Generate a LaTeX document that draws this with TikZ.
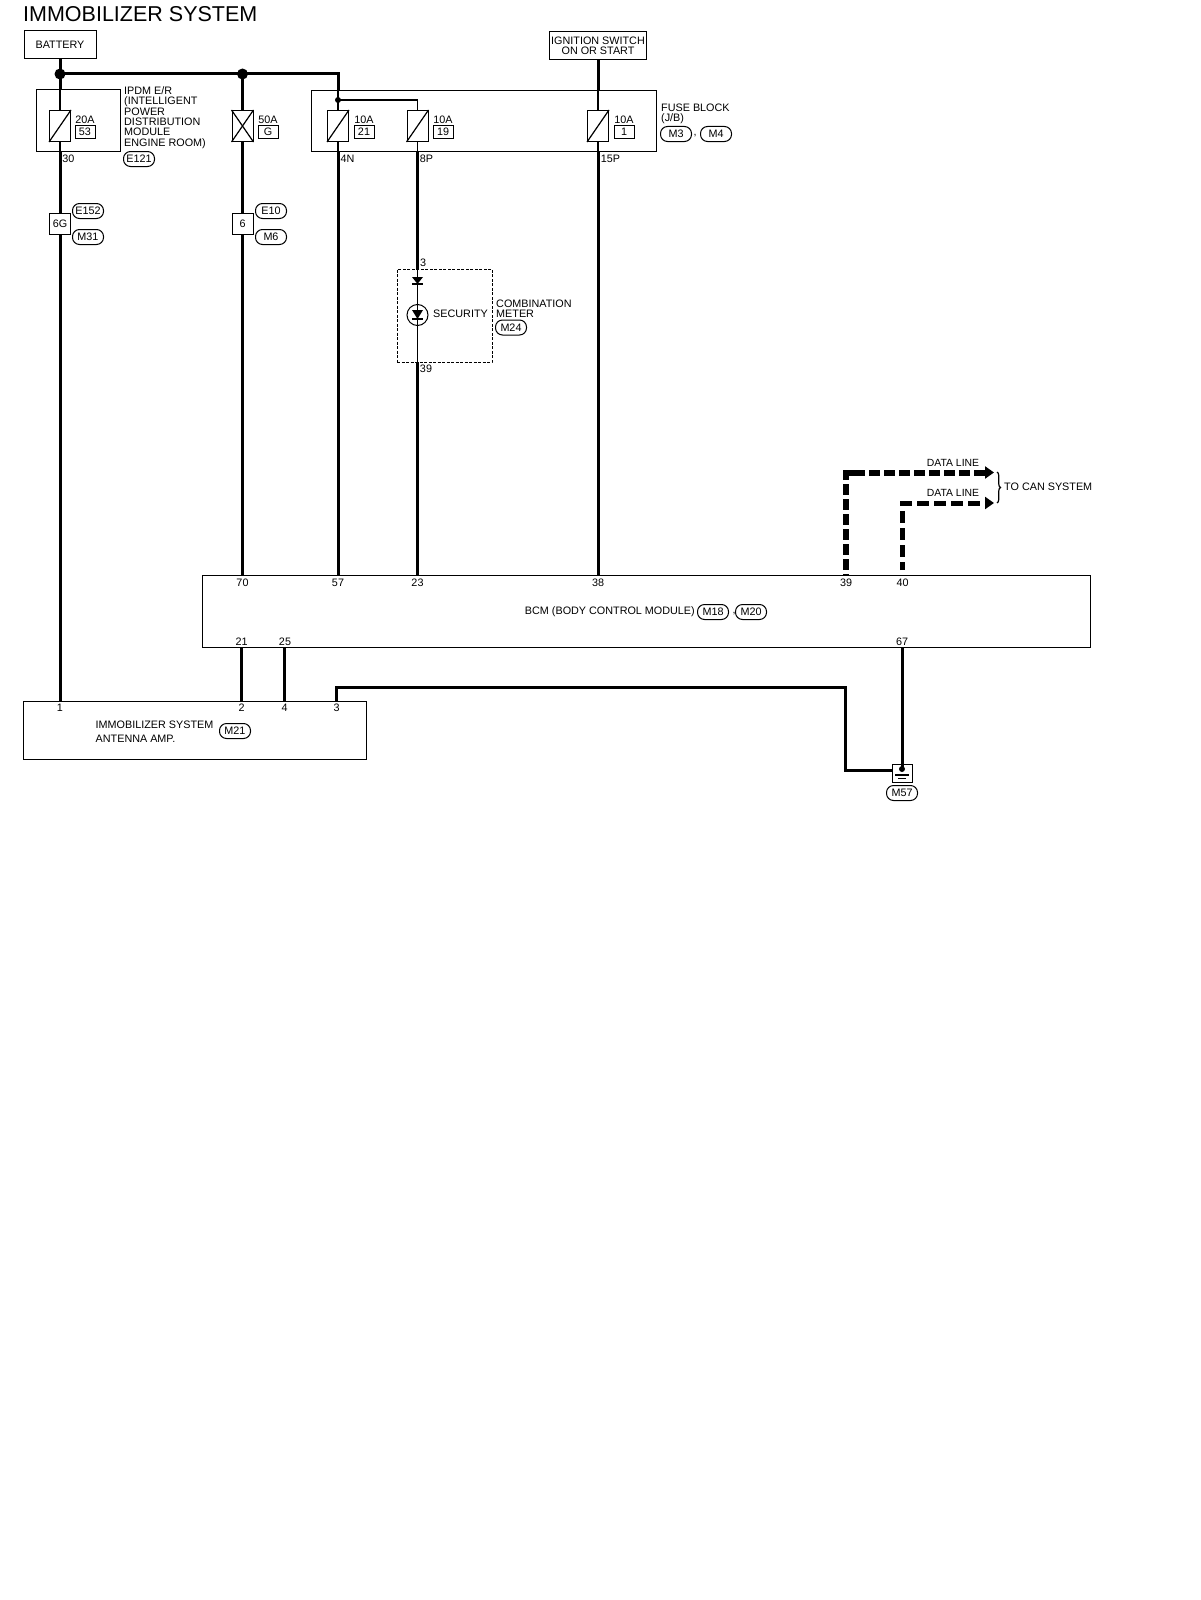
\documentclass[tikz,border=0pt]{standalone}
\usepackage{fontspec}
\setmainfont{Liberation Sans}
\usetikzlibrary{arrows.meta}
\usetikzlibrary{decorations.pathreplacing}
\tikzset{
	lbl/.style={inner sep=0pt,font=\fontsize{10.8}{10.35}\selectfont,align=left},
	unitbox/.style={draw,line width=1pt,inner sep=0pt},
	fusebox/.style={draw,line width=1pt,inner sep=0pt,minimum width=21pt,minimum height=31pt},
	fusenum/.style={draw,line width=1pt,lbl,minimum width=20pt,minimum height=13pt},
	joint/.style={draw,line width=1pt,lbl,minimum width=21pt,minimum height=21pt},
	connid/.style={draw,line width=1pt,lbl,rounded corners=7pt,minimum width=31pt,minimum height=15pt},
	dot/.style={circle,fill=black,inner sep=0pt,minimum size=#1},
	wire/.style={line width=3pt},
	thinwire/.style={line width=1.2pt},
	dataline/.style={-{Triangle[length=9pt,width=12pt]}}
}
\begin{document}
\begin{tikzpicture}[x=1pt,y=-1pt]
\useasboundingbox (0,0) rectangle (1200,1600);
\node[anchor=west,inner sep=0pt,font=\fontsize{21.5}{22}\selectfont] (title) at (23,14) {IMMOBILIZER SYSTEM};

% supplies
\node[unitbox,lbl,minimum width=72pt,minimum height=28pt] (battery) at (60,45) {BATTERY};
\node[unitbox,lbl,align=center,minimum width=97pt,minimum height=28pt] (ignition) at (598,45.5) {IGNITION SWITCH\\ON OR START};
\node[dot=11pt] (dota) at (60,74) {};
\node[dot=11pt] (dotb) at (242.5,74) {};

% ipdm
\node[unitbox,minimum width=84pt,minimum height=61pt] (ipdm) at (78,120.5) {};
\node[fusebox] (f53) at (60,126) {};
\node[lbl] (f53a) at (85,120) {20A};
\node[fusenum] (f53n) at (85,132) {53};
\node[lbl,anchor=north west] (ipdmtxt) at (124,86.3) {IPDM E/R\\(INTELLIGENT\\POWER\\DISTRIBUTION\\MODULE\\ENGINE ROOM)};
\node[connid] (e121) at (139,159) {E121};
\node[lbl] (p30) at (68.5,159) {30};
\node[joint] (j6g) at (60,224) {6G};
\node[connid] (e152) at (88,211) {E152};
\node[connid] (m31) at (88,237) {M31};

% 50A link
\node[fusebox] (fg) at (242.5,126) {};
\draw[thinwire] (fg.south west) -- (fg.north east);
\draw[thinwire] (fg.north west) -- (fg.south east);
\node[lbl] (fga) at (268,120) {50A};
\node[fusenum] (fgn) at (268,132) {G};
\node[joint] (j6) at (242.5,224) {6};
\node[connid] (e10) at (271,211) {E10};
\node[connid] (m6) at (271,237) {M6};

% fuse block
\node[unitbox,minimum width=344.5pt,minimum height=60.5pt] (fuseblock) at (484,121) {};
\node[fusebox] (f21) at (338,126) {};
\node[fusebox] (f19) at (417.5,126) {};
\node[fusebox] (f1) at (598,126) {};
\node[lbl] (f21a) at (364,120) {10A};
\node[fusenum] (f21n) at (364,132) {21};
\node[lbl] (f19a) at (443,120) {10A};
\node[fusenum] (f19n) at (443,132) {19};
\node[lbl] (f1a) at (624,120) {10A};
\node[fusenum] (f1n) at (624,132) {1};
\node[dot=6pt] (dotc) at (338,100) {};
\node[lbl,anchor=north west] (fbtxt) at (661,103.5) {FUSE BLOCK\\(J/B)};
\node[connid] (m3) at (676,134) {M3};
\node[lbl] (comma1) at (695,136) {,};
\node[connid] (m4) at (716,134) {M4};
\node[lbl] (p4n) at (347.5,159) {4N};
\node[lbl] (p8p) at (426.5,159) {8P};
\node[lbl] (p15p) at (610.5,159) {15P};
\foreach \f in {f53,f21,f19,f1}
	\draw[thinwire] (\f.south west) -- (\f.north east);

% meter
\node[draw,line width=1pt,dash pattern=on 3pt off 1.5pt,inner sep=0pt,minimum width=95pt,minimum height=93pt] (meter) at (444.5,315.5) {};
\node[circle,draw,line width=1pt,inner sep=0pt,minimum size=21pt] (lamp) at (417.5,315) {};
\node[lbl] (p3) at (423,263) {3};
\node[lbl] (p39) at (426,368.5) {39};
\node[lbl,anchor=west] (security) at (433,314) {SECURITY};
\node[lbl,anchor=north west] (metertxt) at (496,299.5) {COMBINATION\\METER};
\node[connid] (m24) at (511,327.5) {M24};

% bcm
\node[unitbox,minimum width=888pt,minimum height=72pt] (bcm) at (646,611.5) {};
\node[lbl,anchor=east] (bcmtxt) at (695,612) {BCM (BODY CONTROL MODULE)};
\node[connid] (m18) at (713,612) {M18};
\node[lbl] (comma2) at (734,614) {,};
\node[connid] (m20) at (751,612) {M20};
\node[lbl] (p70) at (242.5,583) {70};
\node[lbl] (p57) at (338,583) {57};
\node[lbl] (p23) at (417.5,583) {23};
\node[lbl] (p38) at (598,583) {38};
\node[lbl] (p39b) at (846,583) {39};
\node[lbl] (p40) at (902.5,583) {40};
\node[lbl] (p21) at (241.7,642) {21};
\node[lbl] (p25) at (285,642) {25};
\node[lbl] (p67) at (902,642) {67};

% antenna amp
\node[unitbox,minimum width=343pt,minimum height=58pt] (amp) at (195,730) {};
\node[lbl,anchor=north west] (amptxt) at (95.5,721) {IMMOBILIZER SYSTEM\\[3.5pt]ANTENNA AMP.};
\node[connid] (m21) at (235,731) {M21};
\node[lbl] (a1) at (60,708) {1};
\node[lbl] (a2) at (241.7,708) {2};
\node[lbl] (a4) at (284.7,708) {4};
\node[lbl] (a3) at (336.5,708) {3};

% ground
\node[draw,line width=1pt,inner sep=0pt,minimum width=20pt,minimum height=18pt] (gnd) at (902,773) {};
\node[dot=6pt] (dotg) at (902,769) {};
\node[connid] (m57) at (902,793) {M57};
\draw[thinwire] (895,775) -- (909,775);
\draw[line width=.8pt] (898,778) -- (906,778);

% wires
\coordinate (ipdmtop) at (60,90);
\coordinate (ipdmbot) at (60,151);
\coordinate (fb1top) at (338,90.5);
\coordinate (fb1bot) at (338,151.5);
\coordinate (fb2bot) at (417.5,151.5);
\coordinate (fb3top) at (598,90.5);
\coordinate (fb3bot) at (598,151.5);
\coordinate (mtop) at (417.5,269);
\coordinate (mbot) at (417.5,362);
\coordinate (bcm1) at (242.5,575.5);
\coordinate (bcm2) at (338,575.5);
\coordinate (bcm3) at (417.5,575.5);
\coordinate (bcm4) at (598,575.5);
\coordinate (bcm5) at (846,575.5);
\coordinate (bcm6) at (902.5,570);
\coordinate (bcm7) at (241.7,647.5);
\coordinate (bcm8) at (284.7,647.5);
\coordinate (bcm9) at (902,647.5);
\coordinate (amp1) at (60,701);
\coordinate (amp2) at (241.7,701);
\coordinate (amp4) at (284.7,701);
\coordinate (amp3) at (336.5,701);
\coordinate (bend1) at (845,687);
\coordinate (gndin) at (892,770);
\coordinate (data1) at (994,472.5);
\coordinate (data2) at (994,503);
\coordinate (cornera) at (846,480);
\coordinate (cornerb) at (860,472.5);

\draw[wire] (battery) -- (dota.center);
\draw[wire] (dota.center) -- (dotb.center);
\draw[wire] (dotb.center) -| (fb1top);
\draw[wire] (dota.center) -- (ipdmtop);
\draw[thinwire] (ipdmtop) -- (f53.north);
\draw[thinwire] (f53.south) -- (ipdmbot);
\draw[wire] (ipdmbot) -- (j6g.north);
\draw[wire] (j6g.south) -- (amp1);
\draw[wire] (dotb.center) -- (fg.north);
\draw[wire] (fg.south) -- (j6.north);
\draw[wire] (j6.south) -- (bcm1);
\draw[thinwire] (fb1top) -- (f21.north);
\draw[thinwire] (dotc.center) -| (f19.north);
\draw[thinwire] (f21.south) -- (fb1bot);
\draw[wire] (fb1bot) -- (bcm2);
\draw[thinwire] (f19.south) -- (fb2bot);
\draw[wire] (fb2bot) -- (mtop);
\draw[thinwire] (mtop) -- (mbot);
\draw[wire] (mbot) -- (bcm3);
\draw[wire] (ignition) -- (fb3top);
\draw[thinwire] (fb3top) -- (f1.north);
\draw[thinwire] (f1.south) -- (fb3bot);
\draw[wire] (fb3bot) -- (bcm4);
\draw[wire] (bcm7) -- (amp2);
\draw[wire] (bcm8) -- (amp4);
\draw[wire] (bcm9) -- (dotg.center);
\draw[wire] (amp3) |- (bend1) |- (gndin);
\draw[dataline,line width=6pt,dash pattern=on 11pt off 4pt,dash phase=9pt] (bcm5) |- (data1);
\draw[line width=6pt] (cornera) |- (cornerb);
\draw[dataline,line width=5pt,dash pattern=on 12pt off 5pt,dash phase=3.5pt] (bcm6) |- (data2);

% diodes
\fill (412,277) -- (423,277) -- (417.5,284) -- cycle;
\draw[thinwire] (412,284) -- (423,284);
\fill (412,310) -- (423,310) -- (417.5,319) -- cycle;
\draw[thinwire] (412,319) -- (423,319);

% data labels
\node[lbl,font=\fontsize{10.4}{11}\selectfont] (dl1) at (953,463) {DATA LINE};
\node[lbl,font=\fontsize{10.4}{11}\selectfont] (dl2) at (953,493) {DATA LINE};
\draw[thinwire,decorate,decoration={brace,amplitude=3.5pt}] (997,472) -- (997,503);
\node[lbl,anchor=west] (cantxt) at (1004,487) {TO CAN SYSTEM};
\end{tikzpicture}
\end{document}
